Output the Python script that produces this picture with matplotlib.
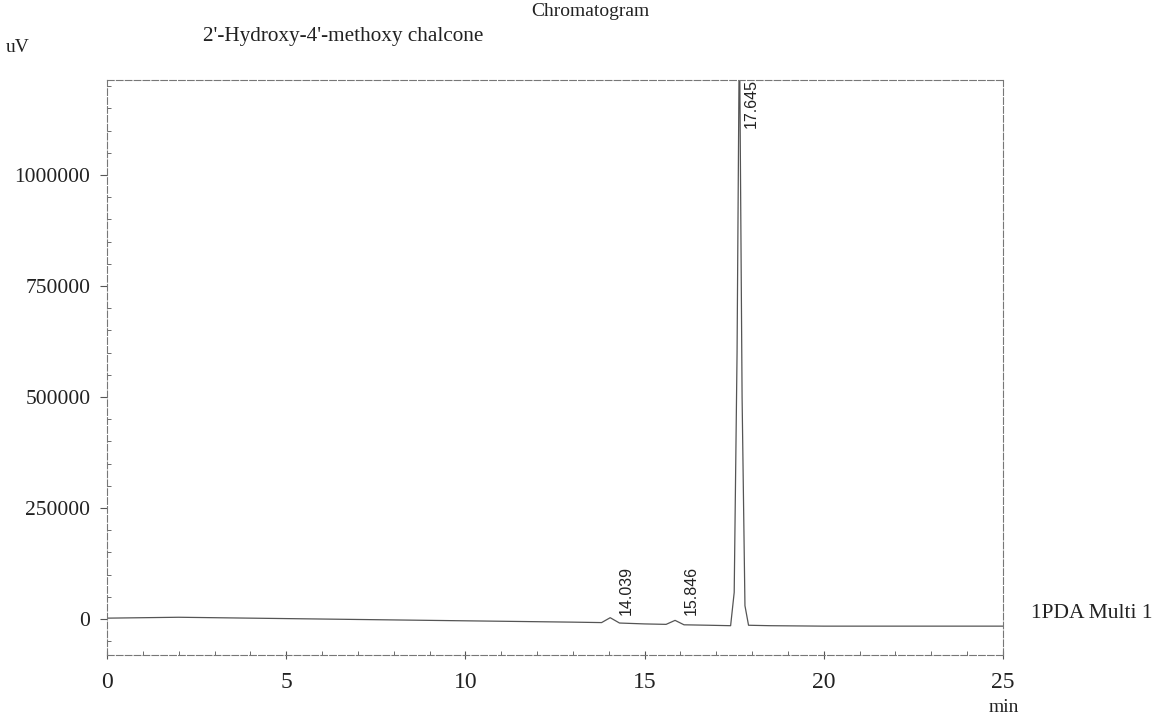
import matplotlib
matplotlib.use("Agg")
import matplotlib.pyplot as plt
from matplotlib.ticker import MultipleLocator

# Chromatogram trace (time in min, signal in uV)
time_min = [0.0, 1.0, 2.0, 3.0, 4.0, 5.0, 6.0, 7.0, 8.0, 9.0, 10.0, 11.0, 12.0, 13.0,
            13.8, 14.04, 14.3, 15.0, 15.6, 15.85, 16.1, 16.8, 17.4, 17.5, 17.58,
            17.645, 17.72, 17.8, 17.9, 18.5, 20.0, 22.0, 24.0, 25.0]
signal_uv = [2000, 3000, 4000, 3000, 2000, 1000, 0, -1000, -2000, -3000, -4000, -5000, -6000, -7000,
             -8000, 3000, -9000, -11000, -12000, -3000, -13000, -14000, -15000, 60000, 600000,
             1350000, 500000, 30000, -14000, -15000, -16000, -16000, -16000, -16000]

peak_times = [14.039, 15.846, 17.645]

x_ticks = [0, 5, 10, 15, 20, 25]
y_ticks = [0, 250000, 500000, 750000, 1000000]

plt.rcParams['font.family'] = ['Liberation Serif', 'DejaVu Serif']

fig = plt.figure(figsize=(11.56, 7.17), dpi=100)
ax = fig.add_axes([107/1156, 1-655/717, (1003-107)/1156, (655-80)/717])

line_col = '#555555'
ax.plot(time_min, signal_uv, color=line_col, lw=0.9)

ax.set_xlim(0, 24.9)
ax.set_ylim(-81000, 1214000)

ax.set_xticks(x_ticks)
ax.set_yticks(y_ticks)
ax.set_yticklabels([str(v) for v in y_ticks])
ax.xaxis.set_minor_locator(MultipleLocator(1))
ax.yaxis.set_minor_locator(MultipleLocator(50000))
ax.tick_params(axis='y', which='major', direction='out', length=5, color=line_col,
               labelsize=15.5, pad=7, labelcolor='#222222')
ax.tick_params(axis='y', which='minor', direction='in', length=3, color=line_col)
ax.tick_params(axis='x', which='major', direction='inout', length=6, color=line_col,
               labelsize=17, pad=9, labelcolor='#222222')
ax.tick_params(axis='x', which='minor', direction='in', length=3, color=line_col)

for s in ax.spines.values():
    s.set_color('#777777')
    s.set_linewidth(0.8)
    s.set_linestyle((0, (6, 2)))

for t in peak_times:
    big = t > 17
    ax.text(t + (0.12 if big else 0.24), 1105000 if big else 10000, f"{t:.3f}",
            rotation=90, ha='left', va='bottom', fontsize=11.5, color='#222222',
            family=['Liberation Sans', 'DejaVu Sans'])

fig.text(590/1156, 1-12/717, "Chromatogram", ha='center', va='center', fontsize=14, color='#222222')
fig.text(343/1156, 1-37/717, "2'-Hydroxy-4'-methoxy chalcone", ha='center', va='center',
         fontsize=15.3, color='#222222')
fig.text(6/1156, 1-48/717, "uV", ha='left', va='center', fontsize=14, color='#222222')
fig.text(1092/1156, 1-614/717, "1PDA Multi 1", ha='center', va='center', fontsize=15.5, color='#222222')
fig.text(1004/1156, 1-707/717, "min", ha='center', va='center', fontsize=14, color='#222222')

fig.savefig("out.png", dpi=100)
